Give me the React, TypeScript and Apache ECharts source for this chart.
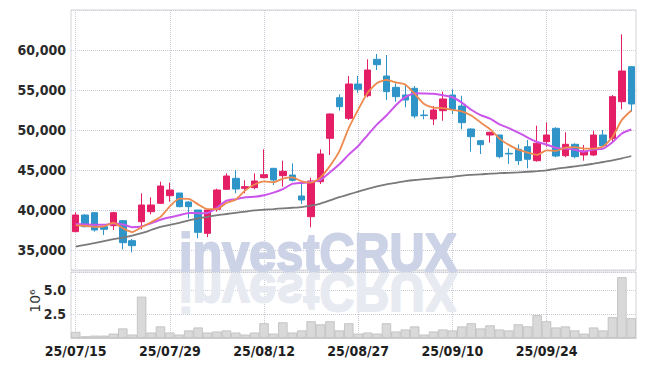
import React, { useEffect, useRef } from "react";
import * as echarts from "echarts";

const dates = [
  "25/07/15", "25/07/16", "25/07/17", "25/07/18", "25/07/21", "25/07/22", "25/07/23", "25/07/24", "25/07/25", "25/07/28",
  "25/07/29", "25/07/30", "25/07/31", "25/08/01", "25/08/04", "25/08/05", "25/08/06", "25/08/07", "25/08/08", "25/08/11",
  "25/08/12", "25/08/13", "25/08/14", "25/08/18", "25/08/19", "25/08/20", "25/08/21", "25/08/22", "25/08/25", "25/08/26",
  "25/08/27", "25/08/28", "25/08/29", "25/09/01", "25/09/02", "25/09/03", "25/09/04", "25/09/05", "25/09/08", "25/09/09",
  "25/09/10", "25/09/11", "25/09/12", "25/09/15", "25/09/16", "25/09/17", "25/09/18", "25/09/19", "25/09/22", "25/09/23",
  "25/09/24", "25/09/25", "25/09/26", "25/09/29", "25/09/30", "25/10/01", "25/10/02", "25/10/10", "25/10/13", "25/10/14",
];

const opens = [
  37290, 39375, 39665, 37915, 38040, 38665, 36165, 38540, 39790, 40835,
  41790, 42125, 41000, 40000, 37085, 40085, 42585, 43960, 42710, 42790,
  44040, 45210, 44290, 44375, 41750, 39165, 43540, 48960, 54040, 51460,
  55750, 54290, 58835, 56750, 55335, 54375, 55210, 51875, 51375, 52415,
  54375, 53000, 50125, 48665, 49375, 49375, 47085, 47590, 47915, 46165,
  48540, 50210, 46790, 48210, 46875, 46875, 49375, 48960, 53540, 57915,
];
const closes = [
  39375, 37915, 37500, 37590, 39665, 35915, 35540, 40625, 40625, 43000,
  42500, 40415, 40415, 37210, 40000, 42500, 44250, 42625, 42915, 43625,
  44415, 43750, 44835, 43710, 41250, 43625, 47000, 52000, 52915, 55750,
  55085, 57500, 58165, 54790, 54165, 53750, 51750, 51800, 52500, 53875,
  52585, 50915, 49165, 48165, 49710, 46665, 47000, 46165, 46340, 48340,
  49375, 46750, 48210, 46665, 47375, 49375, 48040, 54165, 57375, 53250,
];
const lows = [
  37290, 37830, 37290, 36875, 37500, 35090, 34710, 37590, 39460, 40750,
  41040, 40340, 38960, 36460, 36590, 39790, 42585, 42085, 42085, 42585,
  43960, 43125, 42915, 43540, 40750, 37840, 43250, 46875, 52415, 51250,
  54665, 54085, 57500, 53750, 53540, 52835, 51460, 51335, 50625, 51165,
  52000, 50085, 47290, 47000, 48415, 46460, 45750, 45625, 45210, 46040,
  47915, 46590, 46590, 46460, 46165, 46750, 47915, 48540, 52585, 52290,
];
const highs = [
  39710, 39460, 39710, 37915, 39790, 38750, 36375, 42090, 41590, 43540,
  43415, 42125, 41090, 40000, 40125, 42665, 44585, 45000, 43710, 44585,
  47590, 45210, 46165, 45835, 43540, 44040, 47590, 52085, 54460, 56750,
  56750, 58835, 59500, 59375, 55835, 55625, 55500, 52500, 53000, 54790,
  55085, 54290, 50210, 48750, 49790, 49375, 47710, 48210, 48750, 50540,
  50960, 50340, 49710, 48340, 48125, 49915, 50000, 54375, 61960, 58000,
];

const ma5 = [
  38100, 38000, 37900, 37950, 38409, 37717, 37242, 37867, 38474, 39141,
  40458, 41433, 41391, 40708, 40108, 40108, 40875, 41317, 42458, 43183,
  43566, 43466, 43908, 44067, 43592, 43434, 44084, 45517, 47358, 50258,
  52550, 54650, 55883, 56258, 55941, 55674, 54524, 53251, 52793, 52735,
  52502, 52335, 51808, 50941, 50108, 48924, 48141, 47541, 47176, 46902,
  47444, 47394, 47803, 47868, 47675, 47675, 47933, 49124, 51266, 52441,
];
const ma10 = [
  38250, 38200, 38150, 38150, 38300, 38200, 37850, 37950, 38350, 38775,
  39088, 39338, 39629, 39591, 39625, 40283, 41154, 41354, 41583, 41646,
  41837, 42171, 42613, 43263, 43388, 43500, 43775, 44713, 45713, 46925,
  47992, 49367, 50700, 51808, 53100, 54112, 54587, 54567, 54526, 54338,
  54088, 53430, 52530, 51867, 51422, 50713, 50238, 49675, 49059, 48505,
  48184, 47768, 47672, 47522, 47289, 47560, 47664, 48464, 49567, 50058,
];
const maLong = [
  35420, 35650, 35850, 36100, 36350, 36550, 36800, 37100, 37500, 37900,
  38150, 38400, 38700, 38950, 39150, 39350, 39500, 39650, 39800, 39950,
  40050, 40120, 40200, 40280, 40370, 40550, 40800, 41200, 41600, 41950,
  42300, 42650, 42950, 43200, 43400, 43600, 43750, 43850, 43950, 44050,
  44150, 44300, 44400, 44450, 44550, 44600, 44650, 44700, 44780, 44850,
  44950, 45150, 45300, 45450, 45600, 45800, 46000, 46200, 46450, 46750,
];

// volume in millions of shares
const volumes = [
  0.64, 0.18, 0.25, 0.25, 0.46, 1.0, 0.36, 4.32, 0.57, 1.21,
  0.57, 0.36, 0.79, 1.1, 0.57, 0.68, 0.79, 0.57, 0.36, 0.57,
  1.54, 0.46, 1.64, 0.57, 0.79, 1.75, 1.43, 1.75, 0.79, 1.54,
  0.46, 0.57, 0.46, 1.54, 0.68, 0.89, 1.21, 0.36, 0.68, 0.89,
  0.79, 1.21, 1.54, 1.0, 1.32, 0.89, 0.79, 1.43, 1.21, 2.39,
  1.75, 1.1, 1.21, 0.79, 0.46, 1.1, 0.79, 2.18, 6.36, 2.07,
];

const UP = "#e41f66";
const DOWN = "#2f95c8";
const LABEL_FONT = '"Liberation Sans Narrow", "DejaVu Sans Condensed", sans-serif';

export default function App() {
  const ref = useRef<HTMLDivElement>(null);
  useEffect(() => {
    const chart = echarts.init(ref.current!, null, { renderer: "svg" });
    const candles = dates.map((_, i) => [opens[i], closes[i], lows[i], highs[i]]);
    const splitLine = {
      show: true,
      lineStyle: { color: "#c9cbd6", type: "dotted" as const, width: 1 },
    };
    chart.setOption({
      animation: false,
      backgroundColor: "#ffffff",
      grid: [
        { left: 71, right: 9, top: 10, height: 260, show: true, borderColor: "#d4d4d8", borderWidth: 1 },
        { left: 71, right: 9, top: 272, height: 66, show: true, borderColor: "#d4d4d8", borderWidth: 1 },
      ],
      xAxis: [
        {
          type: "category",
          gridIndex: 0,
          data: dates,
          boundaryGap: true,
          axisLine: { show: false },
          axisTick: { show: false },
          axisLabel: { show: false },
          splitLine: { ...splitLine, interval: 9, alignWithLabel: true },
        },
        {
          type: "category",
          gridIndex: 1,
          data: dates,
          boundaryGap: true,
          axisLine: { show: true, lineStyle: { color: "#cfcfd4" } },
          axisTick: { show: false },
          axisLabel: {
            interval: 9,
            color: "#1e1e1e",
            fontFamily: LABEL_FONT,
            fontWeight: "bold",
            fontSize: 14,
            margin: 6,
          },
          splitLine: { ...splitLine, interval: 9, alignWithLabel: true },
        },
      ],
      yAxis: [
        {
          type: "value",
          gridIndex: 0,
          min: 32500,
          max: 65000,
          minInterval: 5000,
          maxInterval: 5000,
          axisLine: { show: false },
          axisTick: { show: false },
          axisLabel: {
            showMinLabel: false,
            showMaxLabel: false,
            color: "#2a2a2a",
            fontFamily: LABEL_FONT,
            fontWeight: "bold",
            fontSize: 14,
            margin: 5,
            formatter: (v: number) => v.toLocaleString("en-US"),
          },
          splitLine,
        },
        {
          type: "value",
          gridIndex: 1,
          min: 0,
          max: 6.9,
          minInterval: 2.5,
          maxInterval: 2.5,
          axisLine: { show: false },
          axisTick: { show: false },
          axisLabel: {
            showMinLabel: false,
            showMaxLabel: false,
            color: "#2a2a2a",
            fontFamily: LABEL_FONT,
            fontWeight: "bold",
            fontSize: 14,
            margin: 5,
            formatter: (v: number) => v.toFixed(1),
          },
          splitLine,
        },
      ],
      graphic: [
        {
          type: "text",
          z: 1,
          x: 179,
          y: 252,
          scaleX: 0.9,
          style: {
            text: "investCRUX",
            font: 'bold 54px "Liberation Sans", Arial, sans-serif',
            fill: "#cdd3e7",
            stroke: "#cdd3e7",
            lineWidth: 2,
            verticalAlign: "middle",
            textAlign: "left",
          },
        },
        {
          type: "text",
          z: 1,
          x: 179,
          y: 293,
          scaleX: 0.9,
          scaleY: -1,
          style: {
            text: "investCRUX",
            font: 'bold 54px "Liberation Sans", Arial, sans-serif',
            fill: "#e8eaf2",
            stroke: "#e8eaf2",
            lineWidth: 2,
            verticalAlign: "middle",
            textAlign: "left",
          },
        },
        {
          type: "text",
          z: 5,
          x: 35,
          y: 301,
          rotation: Math.PI / 2,
          style: {
            text: "10⁶",
            font: '14px "DejaVu Sans", sans-serif',
            fill: "#333",
            verticalAlign: "middle",
            textAlign: "center",
          },
        },
      ],
      series: [
        {
          type: "candlestick",
          xAxisIndex: 0,
          yAxisIndex: 0,
          data: candles,
          barWidth: 7,
          itemStyle: { color: UP, color0: DOWN, borderColor: UP, borderColor0: DOWN, borderWidth: 1 },
        },
        {
          type: "line",
          xAxisIndex: 0,
          yAxisIndex: 0,
          data: maLong,
          symbol: "none",
          smooth: 0.2,
          lineStyle: { color: "#7a7a7a", width: 1.8 },
        },
        {
          type: "line",
          xAxisIndex: 0,
          yAxisIndex: 0,
          data: ma10,
          symbol: "none",
          smooth: 0.2,
          lineStyle: { color: "#cb55ea", width: 2 },
        },
        {
          type: "line",
          xAxisIndex: 0,
          yAxisIndex: 0,
          data: ma5,
          symbol: "none",
          smooth: 0.2,
          lineStyle: { color: "#ee8a4e", width: 1.8 },
        },
        {
          type: "bar",
          xAxisIndex: 1,
          yAxisIndex: 1,
          data: volumes,
          barCategoryGap: "0%",
          itemStyle: { color: "#d9d9d9", borderColor: "#bdbdbd", borderWidth: 0.8 },
        },
      ],
    });
    return () => chart.dispose();
  }, []);
  return <div ref={ref} style={{ position: "fixed", left: 0, top: 0, width: 645, height: 366 }} />;
}
